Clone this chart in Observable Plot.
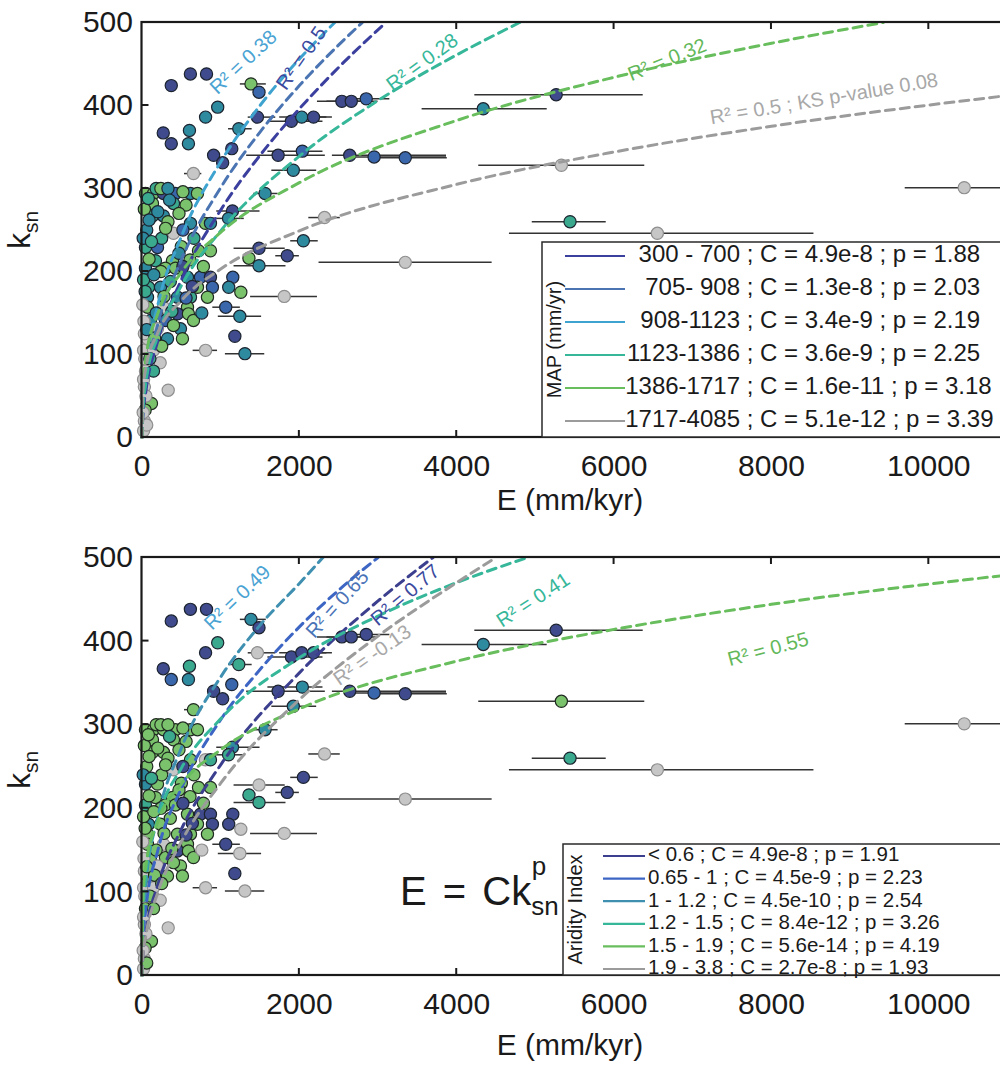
<!DOCTYPE html>
<html><head><meta charset="utf-8">
<script src="https://cdn.jsdelivr.net/npm/d3@7"></script>
<script src="https://cdn.jsdelivr.net/npm/@observablehq/plot@0.6"></script>
<style>
body{margin:0;background:#fff;}
#wrap{position:relative;width:1000px;height:1079px;overflow:hidden;background:#fff;}
#wrap svg{display:block;}
</style></head><body><div id="wrap"></div>
<script>
const FONT = '"Liberation Sans", Arial, Helvetica, sans-serif';
const xTicks = [0, 2000, 4000, 6000, 8000, 10000];
const yTicks = [0, 100, 200, 300, 400, 500];

// ---- data points (E in mm/kyr, ksn) ----
const ptE = [10450,5330,5264,4337,5440,6550,3346,2540,2660,2850,1467,1899,2030,2180,1730,2038,2640,2950,3346,1923,654,1564,2320,2051,1487,1846,1487,1808,1064,1243,808,1308,1385,1230,1150,1100,
 372,615,820,962,1487,808,270,372,603,590,1141,910,1025,1359,1154,1102,1256,1180,231,333,
 44,146,273,425,616,705,133,400,133,273,616,806,870,400,44,197,718,870,171,387,44,298,425,578,743,870,83,235,705,895,70,451,616,832,70,273,578,451,590,108,298,654,197,489,70,324,514,20,146,44,146,30,70,120,40,30,20,25,30,35,20,50,15,60,10,20,60,30,15,90,250,500,330,160,
 180,240,330,520,80,350,560,200,470,90,300,520,660,120,470,610,240,520,780,150,360,640,280,560,180,380,760,40,250,100,60,400];
const ptK = [301,328,413,396,260,246,211,405,405,408,386,381,386,386,340,345,340,338,337,322,318,294,265,237,228,219,207,170,157,146,105,101,426,372,273,264,
 424,438,438,398,416,386,367,354,370,354,348,340,331,216,193,181,175,122,90,57,
 294,294,294,294,294,294,282,282,267,267,258,258,258,246,229,229,225,225,213,213,204,204,204,193,193,193,181,181,181,181,169,169,169,169,157,157,157,149,149,141,141,141,131,131,119,119,119,105,105,80,80,61,41,41,33,20,8,140,125,95,70,50,30,15,160,190,250,275,240,215,240,230,260,120,
 300,300,300,296,288,286,280,272,270,262,252,250,240,236,222,214,200,206,206,196,188,182,170,168,150,152,150,176,110,95,130,135];
const ptLo = [9700,4280,4230,3560,4960,4670,2250,2230,2350,2500,1350,1600,1750,1900,1330,1600,2420,2600,3000,1650,540,1420,2120,1890,1170,1700,1170,1380,900,970,650,1060,1250,1100,950,900];
const ptHi = [11500,6390,6370,5150,5900,8540,4450,2900,3000,3150,1700,2300,2350,2420,2330,2300,3870,3870,3880,2220,760,1730,2520,2240,1820,2000,1830,2230,1250,1520,960,1560,1580,1400,1500,1300];
// class index 0..5 : MAP classes (top panel)
const ptMap = [5,5,0,2,3,5,5,0,0,1,0,0,2,0,0,1,0,1,1,2,5,2,5,2,0,0,2,5,1,2,5,2,4,2,0,2,
 0,0,0,2,1,2,0,0,2,2,0,0,0,4,1,2,4,0,5,5,
 4,4,0,1,2,4,4,3,3,2,2,4,2,5,3,1,4,4,3,4,2,4,4,2,1,0,3,2,4,1,2,2,3,4,4,5,4,0,4,2,1,4,5,2,5,2,4,5,5,5,3,5,3,4,4,5,5,5,5,5,5,5,5,5,5,3,2,4,2,4,3,4,4,4,
 3,4,2,4,3,2,4,2,4,2,4,1,3,3,2,4,4,0,4,2,3,0,4,1,2,3,2,3,4,3,2,4];
// class index 0..5 : aridity classes (bottom panel)
const ptArid = [5,4,0,2,3,5,5,0,0,0,5,0,0,0,0,2,0,1,0,2,4,2,5,0,5,0,3,5,0,5,5,5,2,3,2,3,
 0,0,0,3,0,0,0,1,3,2,1,0,0,3,0,0,5,0,5,5,
 4,4,4,4,4,4,4,4,4,4,4,5,3,5,2,4,4,4,4,4,3,4,4,4,0,0,2,4,4,0,4,4,4,4,4,5,4,0,4,4,4,4,5,4,4,4,4,5,5,4,4,5,4,4,4,5,5,5,5,5,5,5,5,4,5,4,4,4,2,4,4,4,4,4,
 4,4,4,4,4,3,4,4,4,4,4,0,4,3,4,4,4,0,4,4,4,0,4,0,4,4,5,4,4,4,4,4];

// ---- fitted curves: [E, ksn] ----
const mapCurve0 = [[0,0],[10,24],[50,56],[200,116],[500,190],[1000,274],[1500,340],[2000,396],[2500,446],[3100,500]];
const mapCurve1 = [[0,0],[10,31],[50,69],[200,136],[500,214],[1000,301],[1500,368],[2000,424],[2500,473],[2800,500]];
const mapCurve2 = [[0,0],[10,40],[50,84],[200,159],[500,242],[1000,332],[1500,400],[2000,456],[2450,500]];
const mapCurve3 = [[0,0],[10,32],[50,66],[200,122],[500,183],[1000,249],[2000,339],[3000,406],[4000,461],[4800,500]];
const mapCurve4 = [[0,0],[10,58],[50,96],[200,149],[500,199],[1000,247],[2000,307],[4000,382],[6000,434],[8000,475],[9420,500]];
const mapCurve5 = [[0,0],[10,52],[50,84],[200,126],[500,165],[1000,203],[2000,249],[4000,305],[6000,344],[8000,375],[11000,412]];
const aiCurve0 = [[0,0],[10,22],[50,52],[200,108],[500,175],[1000,252],[2000,362],[3000,448],[3700,500]];
const aiCurve1 = [[0,0],[10,39],[50,80],[200,149],[500,224],[1000,306],[1500,366],[2000,417],[2500,461],[3000,500]];
const aiCurve2 = [[0,0],[10,58],[50,110],[200,189],[500,272],[1000,357],[1500,419],[2000,469],[2300,500]];
const aiCurve3 = [[0,0],[10,74],[50,122],[200,187],[500,248],[1000,307],[2000,380],[3000,430],[4000,470],[4900,500]];
const aiCurve4 = [[0,0],[10,90],[50,132],[200,184],[500,229],[1000,270],[2000,319],[4000,376],[6000,414],[8000,444],[11000,479]];
const aiCurve5 = [[0,0],[10,21],[50,48],[200,99],[500,160],[1000,230],[2000,330],[3000,406],[4000,470],[4500,500]];

// ---- legends ----
const mapClasses = ["300 - 700","705- 908","908-1123","1123-1386","1386-1717","1717-4085"];
const mapFits = [" ; C = 4.9e-8 ; p = 1.88"," ; C = 1.3e-8 ; p = 2.03"," ; C = 3.4e-9 ; p = 2.19"," ; C = 3.6e-9 ; p = 2.25"," ; C = 1.6e-11 ; p = 3.18"," ; C = 5.1e-12 ; p = 3.39"];
const aiRows = ["< 0.6 ; C = 4.9e-8 ; p = 1.91","0.65 - 1 ; C = 4.5e-9 ; p = 2.23","1 - 1.2 ; C = 4.5e-10 ; p = 2.54","1.2 - 1.5 ; C = 8.4e-12 ; p = 3.26","1.5 - 1.9 ; C = 5.6e-14 ; p = 4.19","1.9 - 3.8 ; C = 2.7e-8 ; p = 1.93"];

// ---- R² annotations ----
const mapLabT = ["R² = 0.38","R² = 0.5","R² = 0.28","R² = 0.32","R² = 0.5 ; KS p-value 0.08"];
const mapLabE = [1289,2026,3562,6674,8668];
const mapLabK = [452,457,452,455,408];
const mapLabR = [-43,-55,-36,-22,-9.5];
const aiLabT = ["R² = 0.49","R² = 0.65","R² = 0.77","R² = -0.13","R² = 0.41","R² = 0.55"];
const aiLabE = [1213,2483,3346,2927,4972,7957];
const aiLabK = [452,444,455,383,449,390];
const aiLabR = [-44,-48,-40,-35,-33,-15];

const pointFill = ["#3f4b8c","#3a66ac","#2e8a9e","#3aa98e","#7bc26c","#c6c6c6"];
const pointEdge = ["#1c2430","#1c2430","#1c2430","#1c2430","#1f2a20","#8e8e8e"];
const mapLineColors = ["#3b3f9e","#4a74b2","#3fa3cf","#36b79a","#68bd5c","#9b9b9b"];
const aiLineColors = ["#3b3f8e","#3d66c4","#3e8fb0","#36b79a","#68bd5c","#9b9b9b"];
const mapLabC = ["#4aa3d3","#3b4a9e","#36b79a","#63b85a","#a8a8a8"];
const aiLabC = ["#4aa3d3","#4a74b8","#3b4a9e","#a8a8a8","#36b79a","#63b85a"];

function panel(cfg){
  const pts = ptE.map((e,i)=>({E:e,k:ptK[i],lo:i<ptLo.length?ptLo[i]:null,hi:i<ptHi.length?ptHi[i]:null,c:cfg.cls[i]}));
  const bars = pts.filter(d=>d.lo!==null);
  const labels = cfg.labE.map((e,i)=>({E:e,k:cfg.labK[i],t:cfg.labT[i],r:cfg.labR[i],c:cfg.labC[i]}));
  const chart = Plot.plot({
    width:1000, height:cfg.height,
    marginLeft:141.5, marginRight:0, marginTop:cfg.top, marginBottom:cfg.height-cfg.bottom,
    x:{domain:[0,11000], range:[141.5,1007]},
    y:{domain:[0,500], range:[cfg.bottom,cfg.top]},
    color:{type:"identity"},
    style:{fontFamily:FONT, fontSize:"30px", color:"#1a1a1a", background:"white", overflow:"hidden"},
    marks:[
      Plot.ruleY(bars,{y:"k",x1:"lo",x2:"hi",stroke:"#333",strokeWidth:1.5}),
      Plot.dot(pts,{x:"E",y:"k",r:6.1,fill:d=>pointFill[d.c],stroke:d=>pointEdge[d.c],strokeWidth:1.2}),
      ...cfg.curves.map((c,i)=>Plot.line(c,{x:d=>d[0],y:d=>d[1],stroke:cfg.lineColors[i],strokeWidth:3,strokeDasharray:"9,6",curve:"monotone-x"})),
      Plot.text(labels,{x:"E",y:"k",text:"t",rotate:"r",fill:"c",fontSize:20}),
      Plot.axisX({ticks:xTicks,tickSize:0,tickPadding:17,tickFormat:d=>String(d),label:null,fontSize:30}),
      Plot.axisY({ticks:yTicks,tickSize:0,tickPadding:9,tickFormat:d=>String(d),label:null,fontSize:30})
    ]
  });
  const svg = d3.select(chart);
  const sx = chart.scale("x"), sy = chart.scale("y");
  const x0 = sx.apply(0), x1 = sx.apply(11000), y0 = sy.apply(0), y1 = sy.apply(500);
  const g = svg.append("g").attr("stroke","#1a1a1a").attr("fill","none");
  g.append("rect").attr("x",x0).attr("y",y1).attr("width",x1-x0).attr("height",y0-y1).attr("stroke-width",2.2);
  xTicks.slice(1).forEach(t=>{
    const x = sx.apply(t);
    g.append("line").attr("x1",x).attr("x2",x).attr("y1",y0).attr("y2",y0-7).attr("stroke-width",2);
    g.append("line").attr("x1",x).attr("x2",x).attr("y1",y1).attr("y2",y1+7).attr("stroke-width",2);
  });
  yTicks.slice(1,-1).forEach(t=>{
    const y = sy.apply(t);
    g.append("line").attr("x1",x0).attr("x2",x0+7).attr("y1",y).attr("y2",y).attr("stroke-width",2);
    g.append("line").attr("x1",x1).attr("x2",x1-7).attr("y1",y).attr("y2",y).attr("stroke-width",2);
  });
  // axis titles
  const yl = svg.append("text").attr("transform",`translate(30,${cfg.ylabY}) rotate(-90)`)
    .attr("text-anchor","middle").attr("font-family",FONT).attr("fill","#1a1a1a");
  yl.append("tspan").attr("font-size",32).text("k");
  yl.append("tspan").attr("font-size",21).attr("dy",8).text("sn");
  svg.append("text").attr("x",570).attr("y",cfg.xlabY).attr("text-anchor","middle")
    .attr("font-family",FONT).attr("font-size",30).attr("fill","#1a1a1a").text("E (mm/kyr)");
  // legend
  const L = cfg.legend;
  const lg = svg.append("g").attr("font-family",FONT).attr("fill","#1a1a1a");
  lg.append("rect").attr("x",L.x).attr("y",L.y).attr("width",1010-L.x).attr("height",y0-L.y)
    .attr("fill","white").attr("stroke","#2a2a2a").attr("stroke-width",1.5);
  lg.append("text").attr("transform",`translate(${L.titleX},${(L.y+y0)/2}) rotate(-90)`)
    .attr("text-anchor","middle").attr("dominant-baseline","middle").attr("font-size",L.tfs).text(L.title);
  L.rows.forEach((r,i)=>{
    const y = L.row0 + i*L.dy;
    lg.append("line").attr("x1",L.lx1).attr("x2",L.lx2).attr("y1",y).attr("y2",y)
      .attr("stroke",cfg.lineColors[i]).attr("stroke-width",2.2);
    if (L.suffix){
      lg.append("text").attr("x",L.tx).attr("y",y).attr("text-anchor","end").attr("dominant-baseline","middle")
        .attr("font-size",L.fs).text(r);
      lg.append("text").attr("x",L.tx).attr("y",y).attr("text-anchor","start").attr("dominant-baseline","middle")
        .attr("font-size",L.fs).attr("xml:space","preserve").style("white-space","pre").text(L.suffix[i]);
    } else {
      lg.append("text").attr("x",L.tx).attr("y",y).attr("text-anchor","start").attr("dominant-baseline","middle")
        .attr("font-size",L.fs).attr("textLength",L.tl ? L.tl[i] : null).text(r);
    }
  });
  if (cfg.formula){
    const f = svg.append("text").attr("x",cfg.formula.x).attr("y",cfg.formula.y).attr("text-anchor","start")
      .attr("font-family",FONT).attr("fill","#1a1a1a").attr("font-size",40).attr("word-spacing",5);
    f.append("tspan").text("E = Ck");
    f.append("tspan").attr("font-size",26).attr("dy",10).text("sn");
    f.append("tspan").attr("font-size",26).attr("dx",-27).attr("dy",-40).text("p");
  }
  return chart;
}

const wrap = document.getElementById("wrap");
wrap.appendChild(panel({
  height:540, top:22, bottom:437, cls:ptMap,
  curves:[mapCurve0,mapCurve1,mapCurve2,mapCurve3,mapCurve4,mapCurve5], lineColors:mapLineColors,
  labE:mapLabE, labK:mapLabK, labT:mapLabT, labR:mapLabR, labC:mapLabC,
  ylabY:230, xlabY:510,
  legend:{x:542,y:242,title:"MAP (mm/yr)",titleX:556,tfs:20,fs:24,row0:256,dy:33,lx1:565,lx2:625,tx:740,rows:mapClasses,suffix:mapFits}
}));
wrap.appendChild(panel({
  height:539, top:17, bottom:435, cls:ptArid,
  curves:[aiCurve0,aiCurve1,aiCurve2,aiCurve3,aiCurve4,aiCurve5], lineColors:aiLineColors,
  labE:aiLabE, labK:aiLabK, labT:aiLabT, labR:aiLabR, labC:aiLabC,
  ylabY:230, xlabY:515,
  legend:{x:563,y:304,title:"Aridity Index",titleX:577,tfs:20,fs:20.5,row0:316,dy:22.6,lx1:603,lx2:645,tx:648,rows:aiRows},
  formula:{x:400,y:365}
}));
</script></body></html>
